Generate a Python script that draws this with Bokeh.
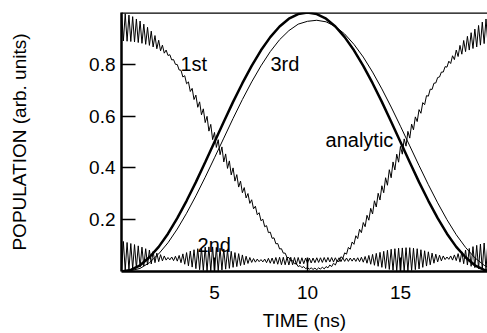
from bokeh.plotting import figure
from bokeh.models import Range1d, Span, Label, FixedTicker
from bokeh.embed import file_html
from bokeh.resources import INLINE
from bokeh.core.properties import value

# ---- data ----
# fine time grid, ns (0.0 ... 20.0 step 0.1)
time_fine = [round(0.1 * i, 1) for i in range(201)]

pop_1st = [
    1.000, .890, .995, .889, .990, .888, .984, .886, .975, .884,
    .967, .881, .955, .877, .943, .873, .928, .867, .911, .860,
    .893, .852, .874, .843, .855, .834, .837, .817, .818, .800,
    .799, .778, .777, .751, .756, .725, .732, .695, .707, .664,
    .681, .634, .655, .605, .628, .575, .599, .542, .568, .509,
    .537, .479, .509, .451, .481, .423, .454, .398, .427, .373,
    .400, .349, .374, .326, .349, .304, .324, .284, .301, .263,
    .277, .242, .252, .219, .227, .196, .202, .173, .177, .150,
    .152, .128, .130, .107, .108, .087, .088, .071, .071, .054,
    .054, .041, .042, .030, .031, .019, .023, .015, .019, .011,
    .015, .009, .014, .008, .013, .007, .014, .009, .017, .010,
    .019, .014, .025, .019, .032, .025, .042, .038, .057, .051,
    .072, .067, .093, .086, .114, .105, .138, .127, .163, .150,
    .189, .173, .217, .198, .244, .222, .273, .249, .302, .276,
    .331, .304, .362, .333, .393, .362, .423, .392, .453, .422,
    .483, .453, .512, .484, .541, .515, .569, .547, .597, .579,
    .625, .611, .652, .644, .679, .677, .704, .703, .727, .728,
    .749, .751, .770, .770, .791, .789, .812, .803, .833, .818,
    .855, .830, .873, .839, .892, .849, .908, .855, .922, .861,
    .936, .867, .950, .874, .963, .880, .975, .882, .985, .884,
    .995,
]

pop_2nd = [
    .002, .116, .005, .112, .007, .108, .010, .104, .013, .099,
    .017, .094, .021, .088, .025, .083, .029, .077, .034, .071,
    .038, .065, .041, .060, .044, .054, .045, .056, .042, .059,
    .040, .062, .034, .068, .028, .073, .022, .079, .017, .084,
    .011, .088, .007, .091, .004, .094, .002, .095, .002, .095,
    .001, .093, .003, .090, .006, .087, .009, .082, .012, .078,
    .016, .073, .019, .069, .023, .064, .026, .059, .031, .054,
    .035, .050, .036, .048, .038, .046, .037, .048, .034, .051,
    .032, .052, .030, .054, .028, .055, .026, .055, .026, .055,
    .025, .055, .026, .054, .027, .054, .029, .053, .030, .052,
    .032, .052, .033, .052, .034, .053, .035, .053, .035, .054,
    .036, .054, .037, .054, .037, .053, .038, .053, .038, .053,
    .039, .052, .039, .052, .040, .052, .039, .053, .038, .055,
    .036, .058, .032, .062, .028, .066, .024, .070, .020, .074,
    .016, .078, .012, .082, .008, .086, .005, .088, .003, .090,
    .001, .091, .002, .092, .002, .092, .004, .090, .007, .088,
    .010, .084, .016, .080, .021, .076, .026, .071, .032, .067,
    .037, .063, .041, .060, .046, .056, .047, .060, .044, .064,
    .042, .069, .036, .076, .030, .083, .025, .089, .020, .096,
    .015, .101, .011, .106, .008, .110, .006, .113, .004, .116,
    .002,
]

# coarse time grid, ns (0.0 ... 20.0 step 0.5)
time_coarse = [0.5 * i for i in range(41)]

pop_3rd = [
    0.0, .003, .012, .034, .068, .111, .164, .225, .292, .364,
    .439, .515, .591, .664, .732, .794, .849, .895, .930, .955,
    .966, .970, .964, .946, .917, .877, .828, .770, .705, .635,
    .561, .485, .409, .335, .265, .200, .142, .093, .053, .024,
    .006,
]

pop_analytic = [
    0.0, .006, .024, .055, .095, .146, .206, .273, .345, .422,
    .500, .578, .655, .727, .794, .854, .905, .946, .976, .994,
    1.000, .994, .976, .946, .905, .854, .794, .727, .655, .578,
    .500, .422, .345, .273, .206, .146, .095, .055, .024, .006,
    0.0,
]

x_ticks = [5, 10, 15]
y_ticks = [0.2, 0.4, 0.6, 0.8]

curve_labels = ["1st", "3rd", "analytic", "2nd"]
label_x = [3.17, 8.01, 10.97, 4.09]
label_y = [0.80, 0.80, 0.509, 0.102]

# ---- figure ----
FONT = "Liberation Sans"
FS = "19px"
FS_LBL = "20px"

p = figure(width=487, height=333, output_backend="svg", toolbar_location=None,
           x_range=Range1d(0, 19.68), y_range=Range1d(0, 1.0),
           min_border_left=121, min_border_right=0,
           min_border_top=12, min_border_bottom=56)
p.outline_line_color = None
p.xgrid.visible = False
p.ygrid.visible = False
p.background_fill_color = "white"
p.border_fill_color = "white"

p.line(time_fine, pop_1st, line_color="black", line_width=1)
p.line(time_fine, pop_2nd, line_color="black", line_width=1)
p.line(time_coarse, pop_3rd, line_color="black", line_width=1)
p.line(time_coarse, pop_analytic, line_color="black", line_width=2.5)

for txt, lx, ly in zip(curve_labels, label_x, label_y):
    p.add_layout(Label(x=lx, y=ly, text=txt, text_font=FONT, text_font_size=FS_LBL,
                       text_color="black", text_baseline="alphabetic",
                       text_align="left"))

p.add_layout(Span(location=1.0, dimension="width", line_color="black",
                  line_width=2.5))

for ax in (p.xaxis, p.yaxis):
    ax.axis_line_width = 2.5
    ax.axis_line_color = "black"
    ax.major_tick_in = 14
    ax.major_tick_out = 0
    ax.major_tick_line_width = 1.5
    ax.major_tick_line_color = "black"
    ax.minor_tick_line_color = None
    ax.major_label_text_font = FONT
    ax.major_label_text_font_size = FS
    ax.major_label_text_color = "black"
    ax.axis_label_text_font = FONT
    ax.axis_label_text_font_size = FS
    ax.axis_label_text_font_style = "normal"
    ax.axis_label_text_color = "black"

p.xaxis.ticker = FixedTicker(ticks=x_ticks)
p.yaxis.ticker = FixedTicker(ticks=y_ticks)
p.xaxis.axis_label = "TIME (ns)"
p.yaxis.axis_label = "POPULATION (arb. units)"
p.xaxis.major_label_standoff = 14
p.xaxis.axis_label_standoff = 8
p.yaxis.major_label_standoff = 6
p.yaxis.axis_label_standoff = 56

open("out.html", "w").write(file_html(p, INLINE))
